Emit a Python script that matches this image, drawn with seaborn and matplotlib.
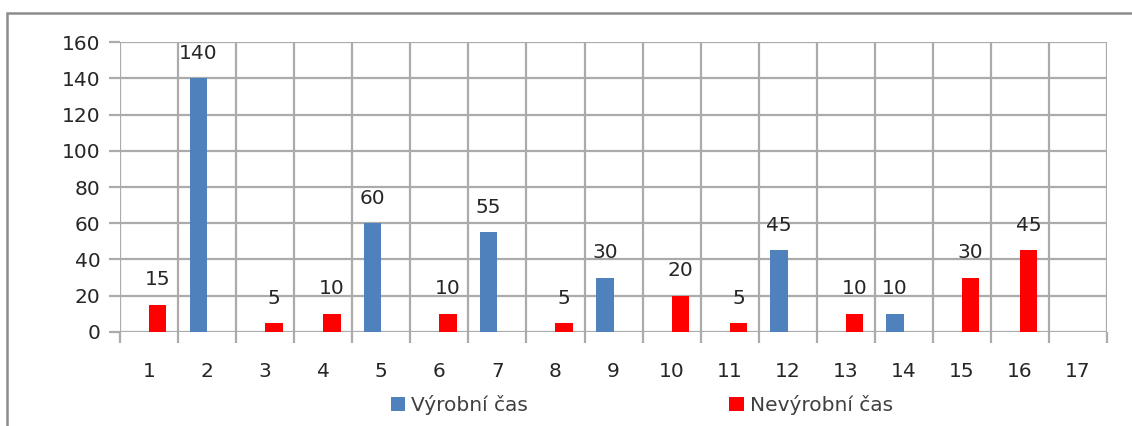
import numpy as np
import pandas as pd
import seaborn as sns
import matplotlib.pyplot as plt
from matplotlib.patches import Rectangle
from matplotlib.ticker import FixedLocator

categories = [str(i) for i in range(1, 18)]
vyrobni = [0, 140, 0, 0, 60, 0, 55, 0, 30, 0, 0, 45, 0, 10, 0, 0, 0]
nevyrobni = [15, 0, 5, 10, 0, 10, 0, 5, 0, 20, 5, 0, 10, 0, 30, 45, 0]
series_names = ["Výrobní čas", "Nevýrobní čas"]
colors = ["#4f81bd", "#ff0000"]

df = pd.DataFrame({
    "kategorie": categories * 2,
    "rada": [series_names[0]] * len(categories) + [series_names[1]] * len(categories),
    "hodnota": vyrobni + nevyrobni,
})

sns.set_theme(style="white")
plt.rcParams["font.family"] = ["DejaVu Sans"]

fig = plt.figure(figsize=(11.32, 4.26), dpi=100)
ax = fig.add_axes([0.106, 0.221, 0.872, 0.680])

sns.barplot(data=df, x="kategorie", y="hodnota", hue="rada",
            hue_order=series_names, order=categories,
            palette=colors, width=0.6, saturation=1, linewidth=0,
            ax=ax, legend=True)

grid_c = "#ababab"
fs = 14.5
ax.set_ylim(0, 160)
ax.set_xlim(-0.5, len(categories) - 0.5)
ax.set_yticks(np.arange(0, 161, 20))
ax.xaxis.set_minor_locator(FixedLocator(np.arange(-0.5, len(categories), 1.0)))
ax.grid(axis="y", color=grid_c, linewidth=1.6)
ax.grid(axis="x", which="minor", color=grid_c, linewidth=1.6)
ax.set_axisbelow(True)
for s in ax.spines.values():
    s.set_visible(False)

ax.tick_params(axis="x", which="major", length=0, pad=22, labelsize=fs, labelcolor="#262626")
ax.tick_params(axis="x", which="minor", length=8, width=1.6, color=grid_c, direction="out", bottom=True)
ax.tick_params(axis="y", length=8, width=1.6, color=grid_c, left=True, pad=6, labelsize=fs, labelcolor="#262626")
ax.set_xlabel("")
ax.set_ylabel("")

for cont in ax.containers:
    labels = [f"{v:.0f}" if v > 0 else "" for v in cont.datavalues]
    ax.bar_label(cont, labels=labels, padding=11, fontsize=fs, color="#262626")

handles, labs = ax.get_legend_handles_labels()
ax.legend_.remove()
fig.legend(handles, labs, loc="center", bbox_to_anchor=(0.567, 0.049), ncol=2,
           frameon=False, fontsize=fs, handlelength=0.7, handleheight=0.7,
           handletextpad=0.3, columnspacing=10, labelcolor="#404040")

fig.patches.append(Rectangle((0.0062, -0.05), 1.1, 1.0195, transform=fig.transFigure,
                             fill=False, edgecolor="#8c8c8c", linewidth=1.8))

fig.savefig("out.png", dpi=100)
